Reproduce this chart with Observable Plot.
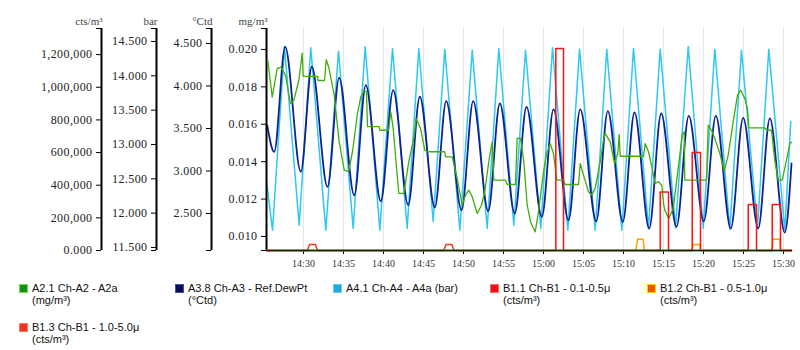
<!DOCTYPE html>
<html><head><meta charset="utf-8">
<script src="https://cdn.jsdelivr.net/npm/d3@7"></script>
<script src="https://cdn.jsdelivr.net/npm/@observablehq/plot@0.6"></script>
<style>
body{margin:0;background:#fff;width:800px;height:350px;overflow:hidden;position:relative;}
#chart{position:absolute;left:0;top:0;width:800px;height:275px;}
#chart svg{position:absolute;left:0;top:0;}
#chart svg, #chart svg text{font-family:"Liberation Serif","Times New Roman",serif !important;}
#chart svg g[aria-label="y-axis tick label"] text{letter-spacing:0.4px;}
.leg{position:absolute;font:11px "Liberation Sans",Arial,sans-serif;color:#111;line-height:12.5px;white-space:nowrap;}
.sw{position:absolute;width:7px;height:7px;border:1px solid;}
</style></head><body>
<div id="chart"></div>
<div id="legend"></div>
<script>
// ---------- data ----------
const xTickLabels = ["14:30","14:35","14:40","14:45","14:50","14:55","15:00","15:05","15:10","15:15","15:20","15:25","15:30"];
const xStartMin = 25.375, xEndMin = 91.125; // minutes after 14:00

// A4.1 (bar) - cyan
const cyanMin = [25.375,26.125,27.625,29.46,30.91,32.79,34.375,36.21,37.71,39.54,41.125,42.96,44.41,46.21,47.66,49.54,51.09,52.96,54.41,56.29,57.75,59.66,61.125,63.04,64.5,66.46,67.91,69.79,71.25,73.125,74.59,76.5,78.09,79.96,81.41,83.29,84.75,86.75,88.16,90.16,90.91];
const cyanVal = [12.476,11.752,14.427,11.825,14.408,11.752,14.359,11.777,14.427,11.752,14.398,11.777,14.398,11.879,14.388,11.752,14.373,11.777,14.398,11.825,14.373,11.777,14.408,11.752,14.388,11.752,14.388,11.752,14.398,11.777,14.388,11.787,14.427,11.777,14.388,11.762,14.373,11.787,14.388,11.752,13.335];

// A3.8 Ref.DewPt (°Ctd) - dark blue
const dewMin = [25.46,26.34,27.71,29.66,31.04,33.0,34.46,36.34,37.79,39.66,41.21,43.09,44.54,46.41,47.84,49.75,51.21,53.09,54.54,56.41,57.875,59.79,61.25,63.125,64.59,66.59,68.04,69.91,71.375,73.21,74.71,76.625,78.16,80.04,81.54,83.41,84.96,86.84,88.29,90.16,91.0];
const dewVal = [3.539,3.226,4.461,2.991,4.226,2.814,4.096,2.715,4.009,2.645,3.951,2.598,3.873,2.571,3.821,2.539,3.821,2.527,3.794,2.5,3.755,2.461,3.724,2.421,3.724,2.409,3.704,2.402,3.688,2.324,3.676,2.344,3.649,2.409,3.649,2.324,3.626,2.324,3.618,2.276,3.088];

// A2.1 A2a (mg/m³) - green
const greenMin = [25.54,26.09,26.71,27.21,27.75,28.375,28.79,29.41,29.84,29.96,31.79,31.80,32.625,32.84,33.16,33.84,34.46,35.09,35.625,36.125,36.75,37.16,37.59,37.875,38.0,39.46,39.54,40.625,40.91,41.21,41.5,41.91,42.54,43.16,43.79,44.09,44.625,45.16,45.46,47.66,47.75,48.59,49.21,49.84,50.25,50.66,51.09,51.71,52.25,52.66,53.16,53.59,53.79,55.25,55.46,56.5,56.71,57.125,57.54,57.96,58.375,58.75,58.96,59.375,60.0,60.41,60.84,61.25,61.66,62.46,62.71,64.375,64.59,65.0,65.625,66.04,66.46,67.09,67.5,67.71,68.34,68.875,69.29,69.46,69.59,72.5,72.71,73.125,73.625,73.96,74.375,74.79,75.0,75.16,75.66,76.21,76.84,77.34,77.59,77.66,80.375,80.59,81.0,81.41,82.04,82.59,83.09,83.71,84.25,84.66,85.16,85.5,85.66,87.66,87.875,88.5,88.91,89.34,89.84,90.375,90.79,91.0];
const greenVal = [0.01941,0.01745,0.01897,0.01905,0.01861,0.01710,0.01727,0.01834,0.01980,0.01856,0.01856,0.01834,0.01834,0.01945,0.01905,0.01756,0.01506,0.01355,0.01346,0.01453,0.01658,0.01747,0.01782,0.01774,0.01587,0.01587,0.01568,0.01568,0.01667,0.01578,0.01433,0.01230,0.01230,0.01400,0.01524,0.01631,0.01578,0.01462,0.01453,0.01453,0.01426,0.01426,0.01310,0.01167,0.01221,0.01248,0.01212,0.01123,0.01167,0.01239,0.01400,0.01506,0.01301,0.01301,0.01278,0.01278,0.01524,0.01524,0.01400,0.01167,0.01079,0.01043,0.01025,0.01132,0.01346,0.01444,0.01497,0.01444,0.01301,0.01301,0.01278,0.01278,0.01390,0.01328,0.01239,0.01221,0.01257,0.01400,0.01515,0.01551,0.01506,0.01390,0.01444,0.01546,0.01429,0.01429,0.01497,0.01453,0.01355,0.01283,0.01293,0.01274,0.01177,0.01141,0.01096,0.01150,0.01364,0.01542,0.01560,0.01301,0.01301,0.01595,0.01568,0.01524,0.01444,0.01349,0.01435,0.01613,0.01756,0.01782,0.01738,0.01685,0.01581,0.01581,0.01568,0.01568,0.01408,0.01301,0.01301,0.01408,0.01497,0.01503];

// B1.1 0.1-0.5µ (cts/m³) - red
const b11Min = [25.375,61.54,61.54,62.5,62.5,74.59,74.59,75.625,75.625,78.59,78.59,79.625,79.625,85.59,85.59,86.625,86.625,88.59,88.59,89.625,89.625,91.0];
const b11Val = [0,0,1237000,1237000,0,0,358000,358000,0,0,600000,600000,0,0,282000,282000,0,0,282000,282000,0,0];
// B1.2 0.5-1.0µ (cts/m³) - orange
const b12Min = [25.375,71.54,71.75,72.44,72.625,78.59,78.66,79.54,79.625,88.59,88.66,89.54,89.625,91.0];
const b12Val = [0,0,69000,69000,0,0,36700,36700,0,0,69000,69000,0,0];
// B1.3 1.0-5.0µ (cts/m³) - red-orange
const b13Min = [25.375,30.5,30.75,31.5,31.75,47.54,47.81,48.56,48.79,91.0];
const b13Val = [0,0,36700,36700,0,0,36700,36700,0,0];

// axes
const ctsTicks = [0,200000,400000,600000,800000,1000000,1200000];
const ctsTickLabels = ["0.000","200,000","400,000","600,000","800,000","1,000,000","1,200,000"];
const barTicks = [11.5,12,12.5,13,13.5,14,14.5];
const barTickLabels = ["11.500","12.000","12.500","13.000","13.500","14.000","14.500"];
const dewTicks = [2.5,3,3.5,4,4.5];
const dewTickLabels = ["2.500","3.000","3.500","4.000","4.500"];
const mgTicks = [0.010,0.012,0.014,0.016,0.018,0.020];
const mgTickLabels = ["0.010","0.012","0.014","0.016","0.018","0.020"];

const ctsDomain = [0, 1360000];
const barDomain = [11.456, 14.689];
const dewDomain = [2.065, 4.676];
const mgDomain = [0.00925, 0.02112];

// ---------- helpers ----------
const base = Date.UTC(2024,0,1,14,0,0);
const toDate = m => new Date(base + m*60000);
const parseHM = s => { const [h,m] = s.split(":").map(Number); return new Date(Date.UTC(2024,0,1,h,m)); };
const xTicks = xTickLabels.map(parseHM);
const xLabelMap = new Map(xTicks.map((d,i)=>[+d, xTickLabels[i]]));
const rows = (ms, vs) => ms.map((m,i)=>({t: toDate(m), v: vs[i]}));
const fmt = (vals, labels) => { const m = new Map(vals.map((v,i)=>[v,labels[i]])); return d => m.get(d) ?? ""; };

const xDom = [toDate(xStartMin), toDate(xEndMin)];
const common = {
  width: 800, height: 275, marginLeft: 266, marginRight: 8, marginTop: 28, marginBottom: 25,
  x: {type: "utc", domain: xDom, axis: null},
  style: {background: "transparent", fontFamily: "'Liberation Serif', serif", fontSize: "12px", color: "#000", overflow: "visible"}
};

function yAxisMarks(ticks, labels, domain, dx, title) {
  return [
    Plot.ruleX([xDom[0]], {dx, stroke: "#000", strokeWidth: 2}),
    Plot.axisY({anchor: "left", label: null, ticks, tickFormat: fmt(ticks, labels), dx, tickSize: 5, tickPadding: 4, fill: "#222", fontSize: 12}),
    Plot.axisY({anchor: "left", label: null, ticks: domain, tickFormat: () => "", dx, tickSize: 5}),
    Plot.text([title], {frameAnchor: "top-left", textAnchor: "end", dx: dx + 1, dy: -11, fontSize: 11, fill: "#444"})
  ];
}

function layer(domain, marks) {
  return Plot.plot({...common, y: {domain, axis: null}, marks});
}

const chart = document.getElementById("chart");

// cyan layer (bar) + grid + x axis
chart.append(layer(barDomain, [
  Plot.ruleX(xTicks, {stroke: "#e6e6e6", strokeWidth: 1}),
  Plot.axisX({label: null, ticks: xTicks, tickFormat: d => xLabelMap.get(+d), tickSize: 4, tickPadding: 5, fontSize: 10, fill: "#333"}),
  ...yAxisMarks(barTicks, barTickLabels, barDomain, 156 - 266, "bar"),
  Plot.line(rows(cyanMin, cyanVal), {x: "t", y: "v", stroke: "#2ec8f0", strokeWidth: 1.5})
]));

// dark blue layer (°Ctd)
chart.append(layer(dewDomain, [
  ...yAxisMarks(dewTicks, dewTickLabels, dewDomain, 211 - 266, "°Ctd"),
  Plot.line(rows(dewMin, dewVal), {x: "t", y: "v", stroke: "#0f2290", strokeWidth: 1.8, curve: "monotone-x"})
]));

// green layer (mg/m³)
chart.append(layer(mgDomain, [
  ...yAxisMarks(mgTicks, mgTickLabels, mgDomain, 0, "mg/m³"),
  Plot.line(rows(greenMin, greenVal), {x: "t", y: "v", stroke: "#3fae0a", strokeWidth: 1.3})
]));

// counts layer (cts/m³)
chart.append(layer(ctsDomain, [
  ...yAxisMarks(ctsTicks, ctsTickLabels, ctsDomain, 101 - 266, "cts/m³"),
  Plot.line(rows(b13Min, b13Val), {x: "t", y: "v", stroke: "#f03a1a", strokeWidth: 1.5}),
  Plot.line(rows(b12Min, b12Val), {x: "t", y: "v", stroke: "#ffa000", strokeWidth: 1.5}),
  Plot.line(rows(b11Min, b11Val), {x: "t", y: "v", stroke: "#ff1414", strokeWidth: 1.5}),
  Plot.ruleY([0], {stroke: "#2a1810", strokeWidth: 1.5})
]));

// ---------- legend ----------
const legendItems = [
  {x: 19, y: 284, fill: "#1a8c1a", border: "#77dd44", lines: ["A2.1 Ch-A2 - A2a", "(mg/m³)"]},
  {x: 175, y: 284, fill: "#0b0b55", border: "#3355aa", lines: ["A3.8 Ch-A3 - Ref.DewPt", "(°Ctd)"]},
  {x: 333, y: 284, fill: "#22aadd", border: "#66ccee", lines: ["A4.1 Ch-A4 - A4a (bar)"]},
  {x: 490, y: 284, fill: "#ee1111", border: "#ff6666", lines: ["B1.1 Ch-B1 - 0.1-0.5μ", "(cts/m³)"]},
  {x: 647, y: 284, fill: "#ee5511", border: "#ffcc00", lines: ["B1.2 Ch-B1 - 0.5-1.0μ", "(cts/m³)"]},
  {x: 19, y: 323, fill: "#ee3322", border: "#ff7755", lines: ["B1.3 Ch-B1 - 1.0-5.0μ", "(cts/m³)"]}
];
const legend = document.getElementById("legend");
for (const it of legendItems) {
  const sw = document.createElement("div");
  sw.className = "sw";
  sw.style.left = it.x + "px"; sw.style.top = it.y + "px";
  sw.style.background = it.fill; sw.style.borderColor = it.border;
  legend.append(sw);
  const tx = document.createElement("div");
  tx.className = "leg";
  tx.style.left = (it.x + 13) + "px"; tx.style.top = (it.y - 2.5) + "px";
  tx.innerHTML = it.lines.map(s => s.replace(/&/g,"&amp;")).join("<br>");
  legend.append(tx);
}
</script>
</body></html>
